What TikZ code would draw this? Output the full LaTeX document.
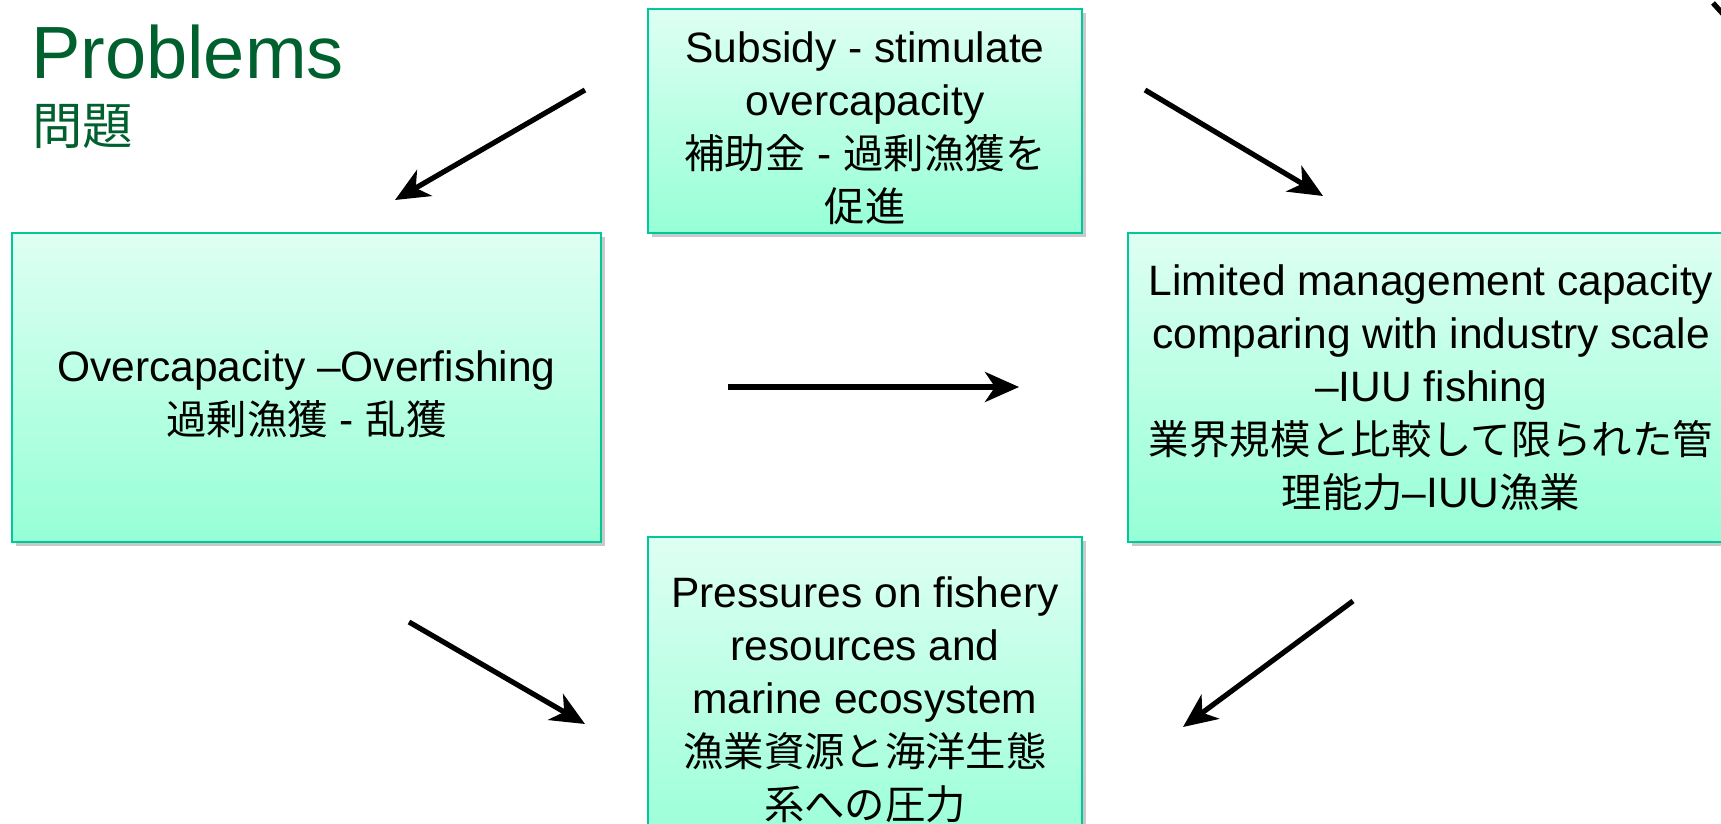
\documentclass[tikz,border=0pt]{standalone}
\usepackage{fontspec}
\setmainfont{Liberation Sans}
\newfontfamily\cjk[Scale=0.95]{Noto Sans CJK JP}
\usetikzlibrary{arrows.meta,shadows}
\definecolor{boxborder}{RGB}{0,200,150}
\definecolor{boxtop}{RGB}{222,255,243}
\definecolor{boxbottom}{RGB}{150,255,214}
\definecolor{titlegreen}{RGB}{0,96,46}
\begin{document}
\begin{tikzpicture}[x=1pt,y=-1pt,
  box/.style={draw=boxborder, line width=2.2pt, top color=boxtop, bottom color=boxbottom,
    align=center, inner sep=0pt, font=\fontsize{42.5}{53}\selectfont,
    drop shadow={shadow xshift=4pt, shadow yshift=-4pt, opacity=0.35, fill=black!60}},
  arr/.style={line width=5.2pt, -{Stealth[length=34pt,width=30pt,inset=10pt]}}]
\useasboundingbox (0,0) rectangle (1721,824);
\clip (0,0) rectangle (1721,824);
\fill[white] (0,0) rectangle (1721,824);

\node[anchor=base west, inner sep=0pt, text=titlegreen, font=\fontsize{74}{80}\selectfont] (title) at (31,79) {Problems};
\node[anchor=base west, inner sep=0pt, text=titlegreen, font=\cjk\fontsize{53}{60}\selectfont] (titlejp) at (32,145) {問題};

\node[box, minimum width=434pt, minimum height=224pt] (top) at (865,121)
  {\rule{0pt}{46pt}Subsidy - stimulate\\overcapacity\\{\cjk 補助金} - {\cjk 過剰漁獲を}\\{\cjk 促進}};
\node[box, minimum width=589pt, minimum height=309pt] (left) at (306.5,387.5)
  {\rule{0pt}{44pt}Overcapacity –Overfishing\\{\cjk 過剰漁獲} - {\cjk 乱獲}};
\node[box, minimum width=606pt, minimum height=309pt] (right) at (1431,387.5)
  {Limited management capacity\\comparing with industry scale\\–IUU fishing\\{\cjk 業界規模と比較して限られた管}\\{\cjk 理能力}–IUU{\cjk 漁業}};
\node[box, minimum width=434pt, minimum height=326pt] (bottom) at (865,700)
  {Pressures on fishery\\resources and\\marine ecosystem\\{\cjk 漁業資源と海洋生態}\\{\cjk 系への圧力}};

\coordinate (a1s) at (585,90);   \coordinate (a1e) at (395,200);
\coordinate (a2s) at (1145,90);  \coordinate (a2e) at (1323,196);
\coordinate (a3s) at (728,387);  \coordinate (a3e) at (1019,387);
\coordinate (a4s) at (409,622);  \coordinate (a4e) at (585,724);
\coordinate (a5s) at (1353,601); \coordinate (a5e) at (1183,727);
\coordinate (f1) at (1713,3);    \coordinate (f2) at (1723,14);

\draw[arr] (a1s) -- (a1e);
\draw[arr] (a2s) -- (a2e);
\draw[arr] (a3s) -- (a3e);
\draw[arr] (a4s) -- (a4e);
\draw[arr] (a5s) -- (a5e);
\draw[line width=5.2pt] (f1) -- (f2);
\end{tikzpicture}
\end{document}
